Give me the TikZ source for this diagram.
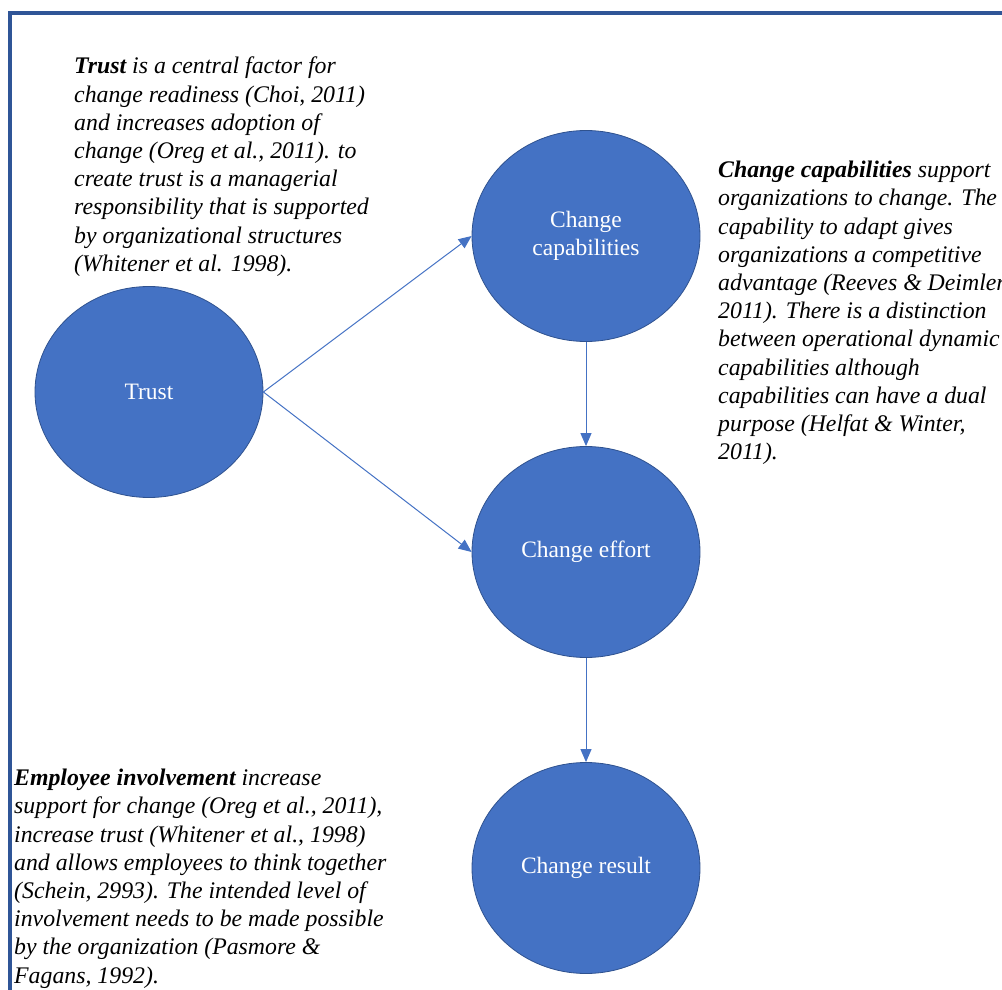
\documentclass[tikz,border=0pt]{standalone}
\usepackage{fontspec}
\setmainfont{Liberation Serif}
\usetikzlibrary{arrows.meta,shapes.geometric}
\definecolor{frameblue}{RGB}{47,85,151}
\definecolor{fillblue}{HTML}{4472C4}
\definecolor{edgeblue}{HTML}{2F528F}
\tikzset{
  bubble/.style={ellipse, minimum width=228pt, minimum height=211pt, inner sep=0pt,
    fill=fillblue, draw=edgeblue, line width=0.8pt, text=white, align=center,
    font=\fontsize{23.5}{28}\selectfont},
  link/.style={draw=fillblue, line width=1pt, -{Triangle[length=13pt,width=11pt]}},
  note/.style={anchor=north west, inner sep=0pt, align=left,
    font=\fontsize{23.8}{28.2}\selectfont\itshape}
}
\begin{document}
\begin{tikzpicture}[x=1pt,y=-1pt]
\useasboundingbox (0,0) rectangle (1002,990);
\draw[frameblue, line width=3.5pt] (10,13) rectangle (1040,1040);
\node[bubble] (trust) at (149,392) {Trust};
\node[bubble] (cap) at (586,236) {Change\\capabilities};
\node[bubble] (eff) at (586,552) {Change effort};
\node[bubble] (res) at (586,868) {Change result};
\draw[link] (trust.east) -- (cap.west);
\draw[link] (trust.east) -- (eff.west);
\draw[link] (cap.south) -- (eff.north);
\draw[link] (eff.south) -- (res.north);
\node[note] (trusttext) at (74,57) {\textbf{Trust} is a central factor for\\
change readiness (Choi, 2011)\\
and increases adoption of\\
change (Oreg et al., 2011). to\\
create trust is a managerial\\
responsibility that is supported\\
by organizational structures\\
(Whitener et al. 1998).};
\node[note] (captext) at (718,161) {\textbf{Change capabilities} support\\
organizations to change. The\\
capability to adapt gives\\
organizations a competitive\\
advantage (Reeves \& Deimler\\
2011). There is a distinction\\
between operational dynamic\\
capabilities although\\
capabilities can have a dual\\
purpose (Helfat \& Winter,\\
2011).};
\node[note] (emptext) at (14,769) {\textbf{Employee involvement} increase\\
support for change (Oreg et al., 2011),\\
increase trust (Whitener et al., 1998)\\
and allows employees to think together\\
(Schein, 2993). The intended level of\\
involvement needs to be made possible\\
by the organization (Pasmore \&\\
Fagans, 1992).};
\end{tikzpicture}
\end{document}
